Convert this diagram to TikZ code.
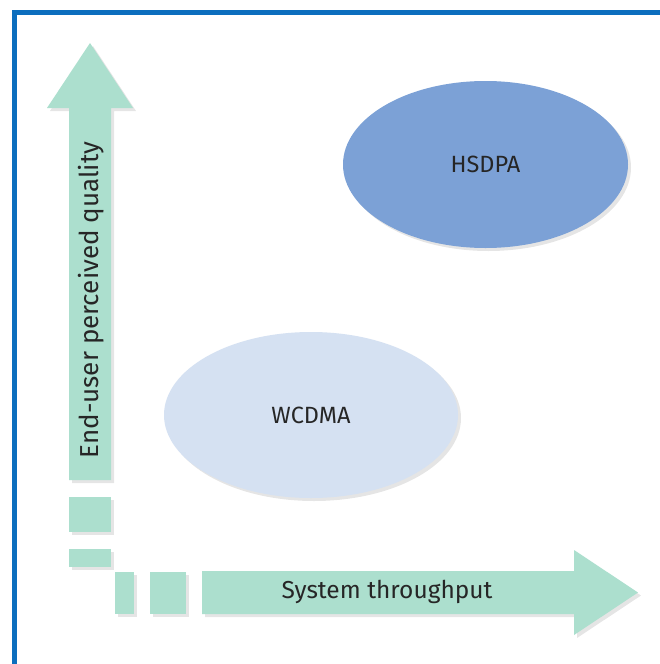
\documentclass[tikz,border=0pt]{standalone}
\usepackage{fontspec}
\setmainfont{Fira Sans}
\usetikzlibrary{shapes.geometric,shadows}
\definecolor{frameblue}{RGB}{12,110,190}
\definecolor{mint}{RGB}{172,223,206}
\definecolor{hsblue}{RGB}{124,161,214}
\definecolor{wcblue}{RGB}{213,225,242}
\tikzset{
    soft/.style={drop shadow={shadow xshift=3pt,shadow yshift=-3pt,opacity=0.1,fill=black}},
    blob/.style={ellipse,inner sep=0pt,soft,font=\fontsize{23.5}{26}\selectfont,text=black!85},
    axis/.style={fill=mint,soft}
}
\begin{document}
\begin{tikzpicture}[x=1pt,y=-1pt]
    \useasboundingbox (0,0) rectangle (660,664);
    \fill[white] (0,0) rectangle (660,664);
    % frame, top and left only
    \draw[frameblue,line width=5pt] (14.5,664) -- (14.5,12.5) -- (660,12.5);
    % vertical arrow
    \path[axis] (69,480) -- (69,108) -- (47,108) -- (90,43) -- (133,108)
        -- (111,108) -- (111,480) -- cycle;
    \foreach \ya/\yb in {497/532,549/567}
        {\path[axis] (69,\ya) rectangle (111,\yb);
        }
    % horizontal arrow
    \foreach \xa/\xb in {115/134,150/186}
        {\path[axis] (\xa,572) rectangle (\xb,614);
        }
    \path[axis] (202,571) -- (574,571) -- (574,550) -- (638,592.5) -- (574,635)
        -- (574,614) -- (202,614) -- cycle;
    \node[rotate=90,font=\fontsize{26}{28}\selectfont,text=black!85] (quality) at (91,300) {End-user perceived quality};
    \node[font=\fontsize{24.5}{27}\selectfont,text=black!85] (throughput) at (387,592) {System throughput};
    % ellipses
    \node[blob,fill=hsblue,minimum width=285pt,minimum height=167pt] (hsdpa) at (485.5,164.5) {HSDPA};
    \node[blob,fill=wcblue,minimum width=294pt,minimum height=166pt] (wcdma) at (311,415) {WCDMA};
\end{tikzpicture}
\end{document}
